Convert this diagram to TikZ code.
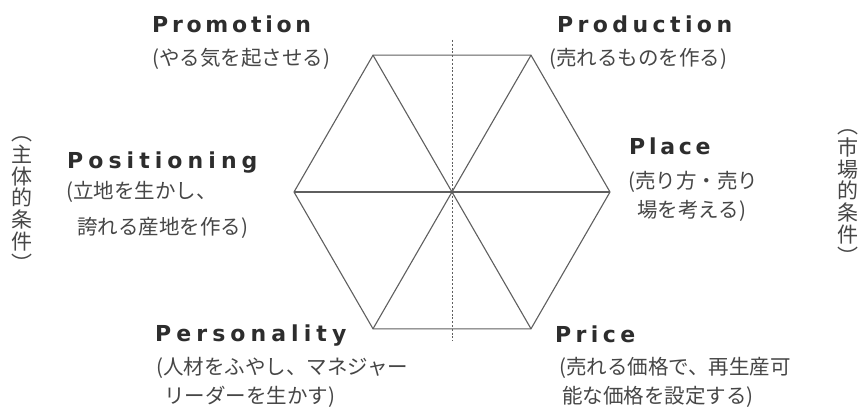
\documentclass[tikz,border=0pt]{standalone}
\usepackage{fontspec}
\newfontfamily\cjk{Noto Sans CJK JP}
\newfontfamily\ttl[LetterSpace=17]{DejaVu Sans}
\newfontfamily\ttlm[LetterSpace=20]{DejaVu Sans}
\newfontfamily\ttlw[LetterSpace=23]{DejaVu Sans}
\definecolor{linegray}{RGB}{95,95,95}
\definecolor{titlegray}{RGB}{45,45,45}
\definecolor{jpgray}{RGB}{70,70,70}
\begin{document}
\begin{tikzpicture}[x=1pt,y=-1pt,
  title/.style={anchor=base west,inner sep=0pt,text=titlegray,font=\ttl\bfseries\fontsize{22}{26}\selectfont},
  titlem/.style={title,font=\ttlm\bfseries\fontsize{22}{26}\selectfont},
  titlew/.style={title,font=\ttlw\bfseries\fontsize{22}{26}\selectfont},
  jp/.style={anchor=base west,inner sep=0pt,text=jpgray,font=\cjk\fontsize{20.5}{24}\selectfont},
  vjp/.style={inner sep=0pt,align=center,text=jpgray,font=\cjk\fontsize{21}{21.7}\selectfont},
  hexline/.style={draw=linegray,line width=1.1pt,line join=miter},
  axisline/.style={draw=linegray,line width=1pt,dash pattern=on 2pt off 1.8pt}]
\useasboundingbox (0,0) rectangle (860,409);
\fill[white] (0,0) rectangle (860,409);
% hexagon
\coordinate (c) at (452,192);
\coordinate (v0) at (610,192);
\coordinate (v60) at (531,55.2);
\coordinate (v120) at (373,55.2);
\coordinate (v180) at (294,192);
\coordinate (v240) at (373,328.8);
\coordinate (v300) at (531,328.8);
\coordinate (dtop) at (452,40);
\coordinate (dbot) at (452,341);
\draw[axisline] (dtop) -- (dbot);
\draw[hexline] (v0)--(v60)--(v120)--(v180)--(v240)--(v300)--cycle;
\draw[hexline] (v0)--(v180);
\draw[hexline] (v60)--(v240);
\draw[hexline] (v120)--(v300);
% titles
\node[title] (promo) at (152,33) {Promotion};
\node[titlem] (prod) at (557,33) {Production};
\node[titlew] (posi) at (67,168) {Positioning};
\node[title] (place) at (629,155) {Place};
\node[titlew] (pers) at (155,341) {Personality};
\node[titlem] (price) at (555,342) {Price};
% subtitles
\node[jp] (promo1) at (152,66) {(やる気を起させる)};
\node[jp] (prod1) at (549,66) {(売れるものを作る)};
\node[jp] (posi1) at (66,199) {(立地を生かし、};
\node[jp] (posi2) at (77,234) {誇れる産地を作る)};
\node[jp] (place1) at (628,189) {(売り方・売り};
\node[jp] (place2) at (637,218) {場を考える)};
\node[jp] (pers1) at (156,374) {(人材をふやし、マネジャー};
\node[jp] (pers2) at (164,403) {リーダーを生かす)};
\node[jp] (price1) at (559,374) {(売れる価格で、再生産可};
\node[jp] (price2) at (562,403) {能な価格を設定する)};
% vertical labels
\node[vjp] (lcond) at (21.5,204) {︵\\主\\体\\的\\条\\件\\︶};
\node[vjp] (rcond) at (847.5,197) {︵\\市\\場\\的\\条\\件\\︶};
\end{tikzpicture}
\end{document}
